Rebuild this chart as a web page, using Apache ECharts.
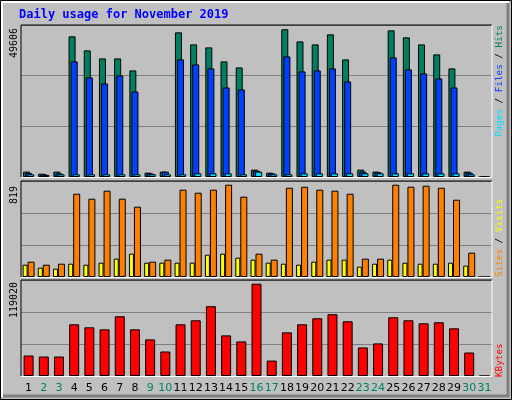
<!DOCTYPE html>
<html><head><meta charset="utf-8">
<script src="https://cdn.jsdelivr.net/npm/echarts@6/dist/echarts.min.js"></script>
<style>html,body{margin:0;padding:0;background:#c0c0c0}#c{width:512px;height:400px}</style>
</head><body><div id="c"></div>
<script>
const days = ['1','2','3','4','5','6','7','8','9','10','11','12','13','14','15','16','17','18','19','20','21','22','23','24','25','26','27','28','29','30','31'];
const weekend = ['2','3','9','10','16','17','23','24','30','31'];
const hits  = [1800,1100,1800,47240,42520,39830,39830,35790,1460,1800,48580,44540,43530,38820,36800,2470,1460,49606,45550,44540,47910,39490,2470,1800,49260,46900,44540,41180,36470,1800,0];
const files = [1350,900,1200,38820,33440,31420,34110,28720,1200,1800,39490,37810,36470,30070,29400,2130,1230,40500,35460,35790,36470,32090,1800,1570,40170,36130,34780,33100,30070,1460,0];
const pages = [900,700,900,900,900,900,900,900,900,900,900,1230,1230,1230,900,1800,900,900,1230,1230,1230,1230,1230,1230,1230,1230,1230,1230,1230,900,0];
const visits= [109,83,74,118,109,127,163,207,127,127,127,127,198,207,172,154,127,118,109,136,154,154,92,118,154,127,118,118,127,101,0];
const sites = [136,109,118,739,695,766,695,624,136,154,775,748,775,819,713,207,154,792,801,775,766,739,163,163,819,801,810,792,686,216,0];
const kbytes= [26400,25100,25100,66650,62760,60160,77040,60160,47180,31590,66650,71840,90020,52370,44580,119020,19910,56260,66650,74440,79640,70550,36790,41980,75740,71840,67950,69250,61460,30300,0];
const maxLabels = ['49606','819','119020'];

const L=21,R=20;
const grids=[{left:L,right:R,top:25,height:152},{left:L,right:R,top:181,height:96},{left:L,right:R,top:280,height:96}];
const maxes=[51050,852,123780];
const bs={borderColor:'#000',borderWidth:1};
function xa(i){return {type:'category',gridIndex:i,data:days,axisLine:{show:false},axisTick:{show:false},
  axisLabel:{show:i===2,interval:0,margin:7,fontFamily:'DejaVu Sans',fontSize:11,color:(v)=>weekend.includes(v)?'#008060':'#000'}};}
function ya(i){return {type:'value',gridIndex:i,min:0,max:maxes[i],interval:maxes[i]/3,axisLabel:{show:false},axisLine:{show:false},axisTick:{show:false},splitLine:{lineStyle:{color:'#808080',width:1}}};}
function frame(g){const x0=g.left,x1=512-g.right,y0=g.top,y1=g.top+g.height;
  return [{type:'line',shape:{x1:x0,y1:y0,x2:x1,y2:y0},style:{stroke:'#000'},z:50},
          {type:'line',shape:{x1:x0,y1:y0,x2:x0,y2:y1},style:{stroke:'#000'},z:50},
          {type:'line',shape:{x1:x0,y1:y1+0.5,x2:x1,y2:y1+0.5},style:{stroke:'#fff'},z:50},
          {type:'line',shape:{x1:x1,y1:y0,x2:x1,y2:y1},style:{stroke:'#fff'},z:50}];}
const font='DejaVu Sans Mono';
function vtext(x,y,text,rich,align,fs){return {type:'text',x:x,y:y,rotation:Math.PI/2,z:60,
  style:{text:text,rich:rich,textAlign:align,textVerticalAlign:'middle',font:fs+'px "'+font+'"',fill:'#000'}};}
const rf='9.3px "'+font+'"';
const chart=echarts.init(document.getElementById('c'));
chart.setOption({
  backgroundColor:'#c0c0c0',animation:false,
  grid:grids,
  xAxis:[xa(0),xa(1),xa(2)],
  yAxis:[ya(0),ya(1),ya(2)],
  series:[
    {type:'bar',xAxisIndex:0,yAxisIndex:0,data:hits,barWidth:7,barGap:'-70%',itemStyle:Object.assign({color:'#008060'},bs)},
    {type:'bar',xAxisIndex:0,yAxisIndex:0,data:files,barWidth:7,barGap:'-70%',itemStyle:Object.assign({color:'#0040ff'},bs)},
    {type:'bar',xAxisIndex:0,yAxisIndex:0,data:pages,barWidth:7,barGap:'-70%',itemStyle:Object.assign({color:'#00e0ff'},bs)},
    {type:'bar',xAxisIndex:1,yAxisIndex:1,data:visits,barWidth:5,barGap:'0%',itemStyle:Object.assign({color:'#ffff00'},bs)},
    {type:'bar',xAxisIndex:1,yAxisIndex:1,data:sites,barWidth:7,barGap:'0%',itemStyle:Object.assign({color:'#ff8000'},bs)},
    {type:'bar',xAxisIndex:2,yAxisIndex:2,data:kbytes,barWidth:10,itemStyle:Object.assign({color:'#ff0000'},bs)}
  ],
  graphic:[
    {type:'rect',shape:{x:0.5,y:0.5,width:511,height:399},style:{fill:null,stroke:'#000'},z:1},
    {type:'polyline',shape:{points:[[2,397],[2,2],[509,2]]},style:{stroke:'#fff',lineWidth:2,fill:null},z:1},
    {type:'polyline',shape:{points:[[3,396],[508,396],[508,3]]},style:{stroke:'#808080',lineWidth:3,fill:null},z:1},
    {type:'text',x:19,y:15,z:60,style:{text:'Daily usage for November 2019',font:'bold 12px "'+font+'"',fill:'#0000ff',textVerticalAlign:'middle'}},
    ...frame(grids[0]),...frame(grids[1]),...frame(grids[2]),
    vtext(14,28,maxLabels[0],null,'right',10),
    vtext(14,186,maxLabels[1],null,'right',10),
    vtext(14,282,maxLabels[2],null,'right',10),
    vtext(500,137,'{p|Pages} / {f|Files} / {h|Hits}',{p:{fill:'#00e0ff',font:rf},f:{fill:'#0040ff',font:rf},h:{fill:'#008060',font:rf}},'left',9.3),
    vtext(500,277,'{s|Sites} / {v|Visits}',{s:{fill:'#ff8000',font:rf},v:{fill:'#ffff00',font:rf}},'left',9.3),
    vtext(500,377,'{k|KBytes}',{k:{fill:'#ff0000',font:rf}},'left',9.3)
  ]
});
</script></body></html>
